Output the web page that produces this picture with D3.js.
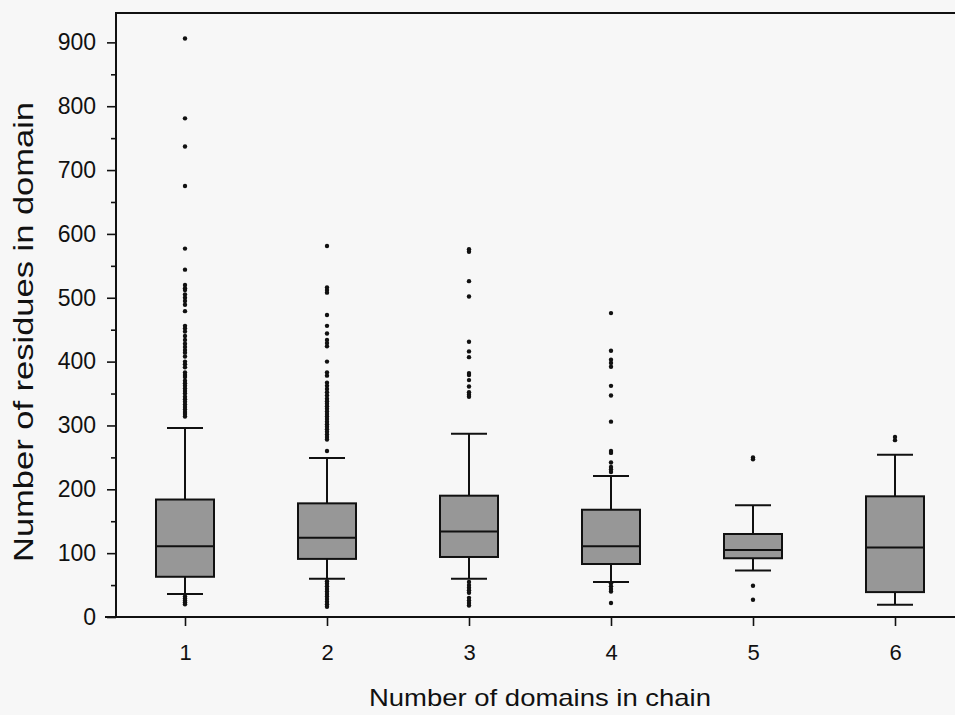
<!DOCTYPE html>
<html>
<head>
<meta charset="utf-8">
<script src="https://cdn.jsdelivr.net/npm/d3@7"></script>
<style>
  body { margin: 0; background: #f7f7f7; }
  svg { display: block; font-family: "Liberation Sans", Arial, Helvetica, sans-serif; }
</style>
</head>
<body>
<div id="chart"></div>
<script>
// --- data ---
var categories = [1, 2, 3, 4, 5, 6];
var q1 =          [63, 91, 94, 83, 92, 39];
var medians =     [111, 124, 134, 111, 105, 109];
var q3 =          [184, 178, 190, 168, 130, 189];
var whiskerLow =  [36, 60, 60, 55, 73, 19];
var whiskerHigh = [296, 249, 287, 221, 175, 254];
var outliers = [
  [906, 781, 737, 675, 577, 544, 520, 515, 512, 505, 500, 495, 489, 479, 456, 452, 447, 440, 434, 428, 423, 418, 414, 408, 400, 396, 391, 383, 379, 376, 370, 366, 362, 358, 354, 350, 345, 341, 337, 333, 329, 325, 321, 318, 314, 32, 29, 26, 23, 20],
  [581, 516, 512, 508, 473, 456, 444, 434, 429, 424, 400, 383, 378, 367, 362, 357, 352, 347, 342, 338, 334, 330, 326, 322, 318, 314, 310, 306, 302, 298, 294, 290, 286, 282, 278, 260, 56, 52, 48, 44, 40, 36, 32, 28, 24, 20, 16],
  [576, 572, 526, 502, 431, 416, 407, 382, 379, 371, 361, 352, 348, 345, 55, 50, 46, 42, 38, 30, 26, 22, 18],
  [476, 417, 403, 398, 392, 362, 347, 306, 260, 257, 242, 235, 231, 227, 53, 48, 44, 40, 22],
  [250, 247, 49, 27],
  [282, 277]
];
var yTicks = [0, 100, 200, 300, 400, 500, 600, 700, 800, 900];
var yMinorTicks = [50, 150, 250, 350, 450, 550, 650, 750, 850];
var xLabel = "Number of domains in chain";
var yLabel = "Number of residues in domain";

var width = 955, height = 715;
var svg = d3.select("#chart").append("svg")
  .attr("width", width)
  .attr("height", height);

svg.append("rect").attr("width", width).attr("height", height).attr("fill", "#f7f7f7");

var x = d3.scaleLinear().domain([0.5, 6.5]).range([114, 966]);
var y = d3.scaleLinear().domain([0, 946]).range([617, 13]);

var boxHalf = 29, capHalf = 18;

var rows = categories.map(function(c, i) {
  return { cat: c, q1: q1[i], med: medians[i], q3: q3[i], lo: whiskerLow[i], hi: whiskerHigh[i], out: outliers[i] };
});

var g = svg.append("g");

// whiskers
g.selectAll("line.whisk").data(rows).enter().append("line")
  .attr("x1", d => x(d.cat)).attr("x2", d => x(d.cat))
  .attr("y1", d => y(d.lo)).attr("y2", d => y(d.hi))
  .attr("stroke", "#111").attr("stroke-width", 2);

g.selectAll("line.capHi").data(rows).enter().append("line")
  .attr("x1", d => x(d.cat) - capHalf).attr("x2", d => x(d.cat) + capHalf)
  .attr("y1", d => y(d.hi)).attr("y2", d => y(d.hi))
  .attr("stroke", "#111").attr("stroke-width", 2);

g.selectAll("line.capLo").data(rows).enter().append("line")
  .attr("x1", d => x(d.cat) - capHalf).attr("x2", d => x(d.cat) + capHalf)
  .attr("y1", d => y(d.lo)).attr("y2", d => y(d.lo))
  .attr("stroke", "#111").attr("stroke-width", 2);

// boxes
g.selectAll("rect.box").data(rows).enter().append("rect")
  .attr("x", d => x(d.cat) - boxHalf)
  .attr("width", boxHalf * 2)
  .attr("y", d => y(d.q3))
  .attr("height", d => y(d.q1) - y(d.q3))
  .attr("fill", "#979797")
  .attr("stroke", "#111").attr("stroke-width", 2);

g.selectAll("line.med").data(rows).enter().append("line")
  .attr("x1", d => x(d.cat) - boxHalf).attr("x2", d => x(d.cat) + boxHalf)
  .attr("y1", d => y(d.med)).attr("y2", d => y(d.med))
  .attr("stroke", "#111").attr("stroke-width", 2);

// outliers
rows.forEach(function(r) {
  g.selectAll(null).data(r.out).enter().append("circle")
    .attr("cx", x(r.cat))
    .attr("cy", v => y(v))
    .attr("r", 2.2)
    .attr("fill", "#111");
});

// axes
var yAxis = d3.axisLeft(y).tickValues(yTicks).tickSize(9).tickPadding(11);
var yg = svg.append("g").attr("transform", "translate(116,0)").call(yAxis);
yg.select(".domain").remove();
yg.selectAll("text").attr("font-size", 23).attr("fill", "#111").attr("font-family", null);
yg.selectAll("line").attr("stroke", "#111").attr("stroke-width", 1.6);

var yMinor = d3.axisLeft(y).tickValues(yMinorTicks).tickSize(5).tickFormat("");
var ym = svg.append("g").attr("transform", "translate(116,0)").call(yMinor);
ym.select(".domain").remove();
ym.selectAll("line").attr("stroke", "#111").attr("stroke-width", 1.6);

var xAxis = d3.axisBottom(x).tickValues(categories).tickSize(9).tickPadding(18).tickFormat(d3.format("d"));
var xg = svg.append("g").attr("transform", "translate(0,617)").call(xAxis);
xg.select(".domain").remove();
xg.selectAll("text").attr("font-size", 22).attr("fill", "#111").attr("font-family", null);
xg.selectAll("line").attr("stroke", "#111").attr("stroke-width", 1.6);

// axis lines and top frame
svg.append("line").attr("x1", 116).attr("x2", 116).attr("y1", 12).attr("y2", 618)
  .attr("stroke", "#111").attr("stroke-width", 2);
svg.append("line").attr("x1", 105).attr("x2", width).attr("y1", 617).attr("y2", 617)
  .attr("stroke", "#111").attr("stroke-width", 2);
svg.append("line").attr("x1", 116).attr("x2", width).attr("y1", 13).attr("y2", 13)
  .attr("stroke", "#111").attr("stroke-width", 2);

// titles
svg.append("text")
  .attr("x", 540).attr("y", 706)
  .attr("text-anchor", "middle")
  .attr("font-size", 24)
  .attr("textLength", 342).attr("lengthAdjust", "spacingAndGlyphs")
  .attr("fill", "#111")
  .text(xLabel);

svg.append("text")
  .attr("transform", "translate(33,332) rotate(-90)")
  .attr("text-anchor", "middle")
  .attr("font-size", 28)
  .attr("textLength", 460).attr("lengthAdjust", "spacingAndGlyphs")
  .attr("fill", "#111")
  .text(yLabel);
</script>
</body>
</html>
